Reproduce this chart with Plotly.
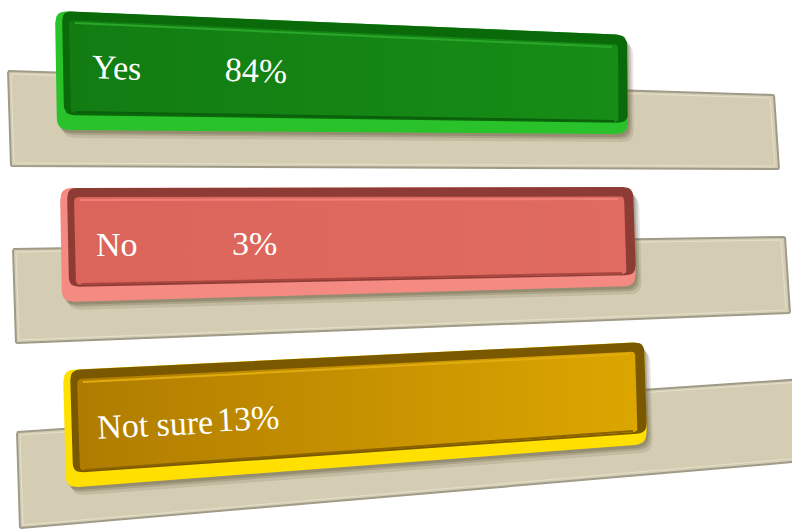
import numpy as np
import plotly.graph_objects as go

# ---- data ----
categories = ["Yes", "No", "Not sure"]
values = [84, 3, 13]
value_labels = [f"{v}%" for v in values]

# ---- layout geometry (pixel-like axis units, y downwards) ----
band_quads = [
    [(8, 71), (774, 95), (779, 169), (11, 166)],
    [(13, 249), (785, 237), (790, 313), (16, 343)],
    [(17, 432), (805, 379), (805, 461), (20, 528)],
]
bar_quads = [
    [(55, 11), (627, 35), (628, 134), (57, 130)],
    [(60, 188), (633, 187), (636, 286), (62, 302)],
    [(63, 370), (644, 342), (647, 444), (66, 488)],
]
label_pos = [(116, 67), (117, 244), (155, 424)]
value_pos = [(256, 70), (254, 243), (248, 418)]
text_angles = [2.2, 0, -2.8]

styles = [
    dict(bright="#2AC22A", dark="#0A6A0A", face0="#127C12", face1="#168D16", hi="#2AA62A", lo="#0B5E0B"),
    dict(bright="#F58A82", dark="#8C3C35", face0="#DC655B", face1="#E06B61", hi="#EE8078", lo="#A8463F"),
    dict(bright="#FFE000", dark="#7A5800", face0="#B07C00", face1="#DCA600", hi="#E0AC10", lo="#8A6300"),
]
band_fill = "#D4CDB3"
band_line = "#9F9B88"


def rounded(corners, r, n=7):
    pts = []
    k = len(corners)
    for i in range(k):
        p = np.array(corners[i], float)
        prev = np.array(corners[i - 1], float)
        nxt = np.array(corners[(i + 1) % k], float)
        d1 = (prev - p) / np.linalg.norm(prev - p)
        d2 = (nxt - p) / np.linalg.norm(nxt - p)
        a = p + d1 * r
        b = p + d2 * r
        for t in np.linspace(0, 1, n):
            q = (1 - t) ** 2 * a + 2 * (1 - t) * t * p + t ** 2 * b
            pts.append(q)
    pts.append(pts[0])
    arr = np.array(pts)
    return arr[:, 0], arr[:, 1]


def offset(quad, d):
    return [(x + dx, y + dy) for (x, y), (dx, dy) in zip(quad, d)]


fig = go.Figure()


def poly(xs, ys, color, line_color=None, line_width=0, grad=None):
    kw = {}
    if grad is not None:
        kw["fillgradient"] = grad
    fig.add_trace(go.Scatter(
        x=xs, y=ys, mode="lines", fill="toself",
        fillcolor=color,
        line=dict(color=line_color or color, width=line_width),
        hoverinfo="skip", showlegend=False, **kw))


for i, cat in enumerate(categories):
    st = styles[i]
    bq = band_quads[i]
    # band with subtle bevel
    xs, ys = rounded(bq, 1, 2)
    poly(xs, ys, band_fill, band_line, 2)
    inner_band = offset(bq, [(3, 3), (-4, 3), (-4, -3), (3, -3)])
    xs, ys = rounded(inner_band, 1, 2)
    fig.add_trace(go.Scatter(x=xs, y=ys, mode="lines",
                             line=dict(color="#E6E0CA", width=1),
                             hoverinfo="skip", showlegend=False))

    q = bar_quads[i]
    # soft shadow
    for (dx, dy), a in [((6, 8), 0.12), ((4, 5), 0.18), ((2, 3), 0.22)]:
        xs, ys = rounded(offset(q, [(dx, dy)] * 4), 12)
        poly(xs, ys, f"rgba(70,60,30,{a})")
    # outer rim (bright)
    xs, ys = rounded(q, 12)
    poly(xs, ys, st["bright"])
    # dark top/right rim
    dq = offset(q, [(7, 0), (0, 0), (0, -11), (7, -15)])
    xs, ys = rounded(dq, 10)
    poly(xs, ys, st["dark"])
    # inner face
    fq = offset(q, [(14, 9), (-9, 9), (-9, -12), (14, -17)])
    xs, ys = rounded(fq, 5)
    poly(xs, ys, st["face1"],
         grad=dict(type="horizontal",
                   colorscale=[[0, st["face0"]], [1, st["face1"]]]))
    # inner top highlight line
    tl, tr = fq[0], fq[1]
    fig.add_trace(go.Scatter(x=[tl[0] + 6, tr[0] - 6], y=[tl[1] + 3, tr[1] + 3],
                             mode="lines", line=dict(color=st["hi"], width=2),
                             hoverinfo="skip", showlegend=False))
    # inner bottom dark line
    bl, br = fq[3], fq[2]
    fig.add_trace(go.Scatter(x=[bl[0] + 5, br[0] - 5], y=[bl[1] - 1, br[1] - 1],
                             mode="lines", line=dict(color=st["lo"], width=2),
                             hoverinfo="skip", showlegend=False))

    fig.add_annotation(x=label_pos[i][0], y=label_pos[i][1], text=cat,
                       showarrow=False, xanchor="center", yanchor="middle",
                       textangle=text_angles[i],
                       font=dict(family="Liberation Serif", size=34, color="#FFFFFF"))
    fig.add_annotation(x=value_pos[i][0], y=value_pos[i][1], text=value_labels[i],
                       showarrow=False, xanchor="center", yanchor="middle",
                       textangle=text_angles[i],
                       font=dict(family="Liberation Serif", size=34, color="#FFFFFF"))

fig.update_layout(
    width=792, height=530, autosize=False,
    margin=dict(l=0, r=0, t=0, b=0),
    paper_bgcolor="white", plot_bgcolor="white",
    xaxis=dict(range=[0, 792], visible=False, fixedrange=True),
    yaxis=dict(range=[530, 0], visible=False, fixedrange=True),
    showlegend=False,
)

fig.write_html(
    "out.html",
    config={"displayModeBar": False},
    post_script="document.body.style.margin='0';document.body.style.overflow='hidden';",
)
